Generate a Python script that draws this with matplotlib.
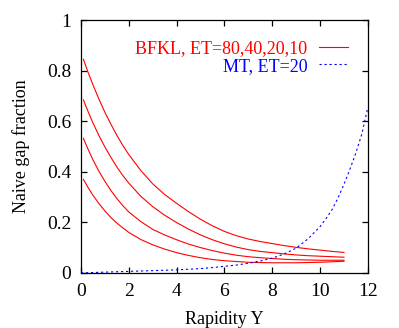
"""Naive gap fraction vs rapidity: BFKL curves and MT comparison."""
import numpy as np
import matplotlib
matplotlib.use("Agg")
from matplotlib import pyplot as plt

# BFKL curves, ET = 80, 40, 20, 10
y_bfkl = [0.1, 0.3, 0.5, 0.75, 1, 1.25, 1.5, 1.75, 2, 2.5, 3, 3.5, 4, 4.5, 5, 5.5,
          6, 6.5, 7, 7.5, 8, 8.5, 9, 9.5, 10, 10.5, 11]
gap_et80 = [0.845, 0.792, 0.744, 0.687, 0.635, 0.588, 0.544, 0.504, 0.468, 0.405, 0.352, 0.310,
            0.275, 0.242, 0.212, 0.186, 0.164, 0.147, 0.134, 0.124, 0.116, 0.108, 0.101,
            0.095, 0.090, 0.085, 0.081]
gap_et40 = [0.684, 0.637, 0.593, 0.543, 0.498, 0.457, 0.419, 0.385, 0.355, 0.303, 0.262, 0.228,
            0.199, 0.173, 0.150, 0.131, 0.115, 0.102, 0.092, 0.085, 0.080, 0.075, 0.071,
            0.068, 0.066, 0.064, 0.062]
gap_et20 = [0.532, 0.488, 0.447, 0.402, 0.362, 0.326, 0.294, 0.266, 0.241, 0.203, 0.172, 0.150,
            0.131, 0.114, 0.100, 0.088, 0.078, 0.070, 0.064, 0.060, 0.057, 0.054, 0.052,
            0.051, 0.050, 0.050, 0.050]
gap_et10 = [0.370, 0.337, 0.307, 0.274, 0.245, 0.219, 0.197, 0.178, 0.160, 0.132, 0.111, 0.094,
            0.080, 0.069, 0.060, 0.053, 0.048, 0.045, 0.042, 0.041, 0.040, 0.040, 0.040,
            0.041, 0.042, 0.044, 0.046]

# MT, ET = 20
y_mt = [0, 1, 2, 3, 4, 5, 5.5, 6, 6.5, 7, 7.5, 8, 8.5, 9, 9.5, 10, 10.25, 10.5, 10.75,
        11, 11.25, 11.5, 11.75, 12]
gap_mt = [0.0, 0.003, 0.006, 0.009, 0.012, 0.017, 0.021, 0.026, 0.031, 0.038, 0.047, 0.058,
          0.075, 0.098, 0.135, 0.183, 0.215, 0.250, 0.296, 0.350, 0.410, 0.475, 0.550, 0.655]

plt.rcParams["font.family"] = ["Liberation Serif", "DejaVu Serif"]
plt.rcParams["font.size"] = 13

fig = plt.figure(figsize=(3.99, 3.28), dpi=100)
ax = fig.add_axes([0.203, 0.168, 0.719, 0.771])

red = "#ff0000"
blue = "#0000ff"
bfkl_lines = []
for gaps in [gap_et80, gap_et40, gap_et20, gap_et10]:
    line, = ax.plot(y_bfkl, gaps, color=red, lw=0.8)
    bfkl_lines.append(line)
mt_line, = ax.plot(y_mt, gap_mt, color=blue, lw=0.8, linestyle=(0, (2, 2.5)))

ax.set_xlim(0, 12)
ax.set_ylim(0, 1)
ax.set_xticks(np.arange(0, 13, 2))
ax.set_yticks([0, 0.2, 0.4, 0.6, 0.8, 1])
ax.set_yticklabels(["0", "0.2", "0.4", "0.6", "0.8", "1"])
ax.tick_params(direction="in", top=True, right=True, length=4, width=0.9, labelsize=14, pad=7)
for spine in ax.spines.values():
    spine.set_linewidth(0.9)

ax.set_xlabel("Rapidity Y", fontsize=13, labelpad=8)
ax.set_ylabel("Naive gap fraction", fontsize=13, labelpad=12)

leg = ax.legend([bfkl_lines[0], mt_line], ["BFKL, ET=80,40,20,10", "MT, ET=20"],
                loc="upper right", frameon=False, markerfirst=False,
                labelcolor="linecolor", fontsize=13, handlelength=1.6,
                handletextpad=0.65, labelspacing=0.05, borderaxespad=0.7)

fig.savefig("out.png", dpi=100)
